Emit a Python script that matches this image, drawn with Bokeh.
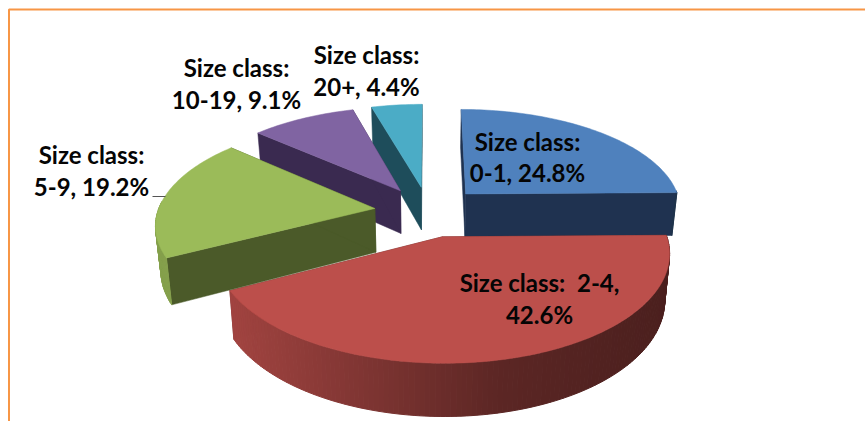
import numpy as np
from bokeh.plotting import figure
from bokeh.models import Range1d
from bokeh.core.properties import value
from bokeh.embed import file_html
from bokeh.resources import INLINE

# ---- data ----
size_classes = ["0-1", "2-4", "5-9", "10-19", "20+"]
shares = [24.8, 42.6, 19.2, 9.1, 4.4]

# ---- styles ----
top_colors = ["#4F81BD", "#BC4F4B", "#9BBB59", "#8064A2", "#4BACC6"]
wall_colors = ["#1F3250", "#5A2623", "#4B5A29", "#3A2A50", "#1E4D5B"]
draw_order = [4, 3, 0, 1, 2]

# ---- projection of the exploded 3-D pie (page pixels) ----
CX, CY, RX, RY, PERSP, DEPTH, EXPLODE, SHRINK = 428, 211, 217, 100.9, 0.14, 44, 0.25, 0.98


def project(X, Y):
    X, Y = np.asarray(X, float), np.asarray(Y, float)
    s = 1 / (1 + PERSP * Y)
    return CX + RX * X * s, CY - RY * Y * s, s


def lower(x, y, s):
    return CX + (x - CX) * SHRINK, y + DEPTH * s


def hex_rgb(c):
    return np.array([int(c[i:i + 2], 16) for i in (1, 3, 5)], float)


def shade(base, x):
    m = np.interp(x, [230, 500, 670], [0.86, 0.49, 0.40])
    r, g, b = (hex_rgb(base) * m).astype(int)
    return f"#{r:02x}{g:02x}{b:02x}"


W, H = 865, 421
p = figure(width=W, height=H, output_backend="svg", toolbar_location=None,
           x_range=Range1d(0, W), y_range=Range1d(H, 0),
           min_border=0, outline_line_color=None, background_fill_color="white")
p.axis.visible = False
p.grid.visible = False

fractions = np.array(shares) / sum(shares)
edges = np.concatenate([[0], np.cumsum(fractions)]) * 2 * np.pi

for i in draw_order:
    a0, a1 = edges[i], edges[i + 1]
    mid = (a0 + a1) / 2
    ex, ey = EXPLODE * np.sin(mid), EXPLODE * np.cos(mid)
    th = np.linspace(a0, a1, max(8, int((a1 - a0) * 50)))
    ux, uy = ex + np.sin(th), ey + np.cos(th)
    x, y, s = project(ux, uy)
    xb, yb = lower(x, y, s)
    ax, ay, asc = project(ex, ey)
    axb, ayb = lower(ax, ay, asc)

    # radial walls
    for k in (0, -1):
        p.patch([ax, x[k], xb[k], axb], [ay, y[k], yb[k], ayb],
                fill_color=wall_colors[i], line_color=wall_colors[i], line_width=0.5)

    # outer wall, in shaded strips, where it faces the viewer
    xs, ys, cols = [], [], []
    for j in range(len(th) - 1):
        if np.cos(th[j]) < 0.05:
            xs.append([x[j], x[j + 1], xb[j + 1], xb[j]])
            ys.append([y[j], y[j + 1], yb[j + 1], yb[j]])
            cols.append(shade(top_colors[i], (x[j] + x[j + 1]) / 2))
    if xs:
        p.patches(xs, ys, fill_color=cols, line_color=cols, line_width=1)

    # top face
    p.patch(np.r_[ax, x], np.r_[ay, y], fill_color=top_colors[i],
            line_color=top_colors[i], line_width=0.5)

# frame
p.line([8.5, 8.5, 865], [421, 9, 9], line_color="#F79646", line_width=2)

# leader line of the 5-9 label
p.line([152, 165], [196, 196], line_color="#555555", line_width=1)

# labels
label_x = [527, 539, 91, 236, 366]
label_y = [(141, 172), (282, 314), (154, 186), (67, 99), (54, 86)]
label_first = ["Size class:", "Size class:\u00a0 {c},", "Size class:", "Size class:", "Size class:"]
label_second = ["{c}, {v}%", "{v}%", "{c}, {v}%", "{c}, {v}%", "{c}, {v}%"]

tx, ty, tt = [], [], []
for i, (c, v) in enumerate(zip(size_classes, shares)):
    tx += [label_x[i], label_x[i]]
    ty += list(label_y[i])
    tt += [label_first[i].format(c=c), label_second[i].format(c=c, v=v)]

p.text(tx, ty, text=tt, text_font=value("Lato"), text_font_style="bold",
       text_font_size="24px", text_align="center", text_baseline="middle",
       text_color="#050505")

open("out.html", "w").write(file_html(p, INLINE))
